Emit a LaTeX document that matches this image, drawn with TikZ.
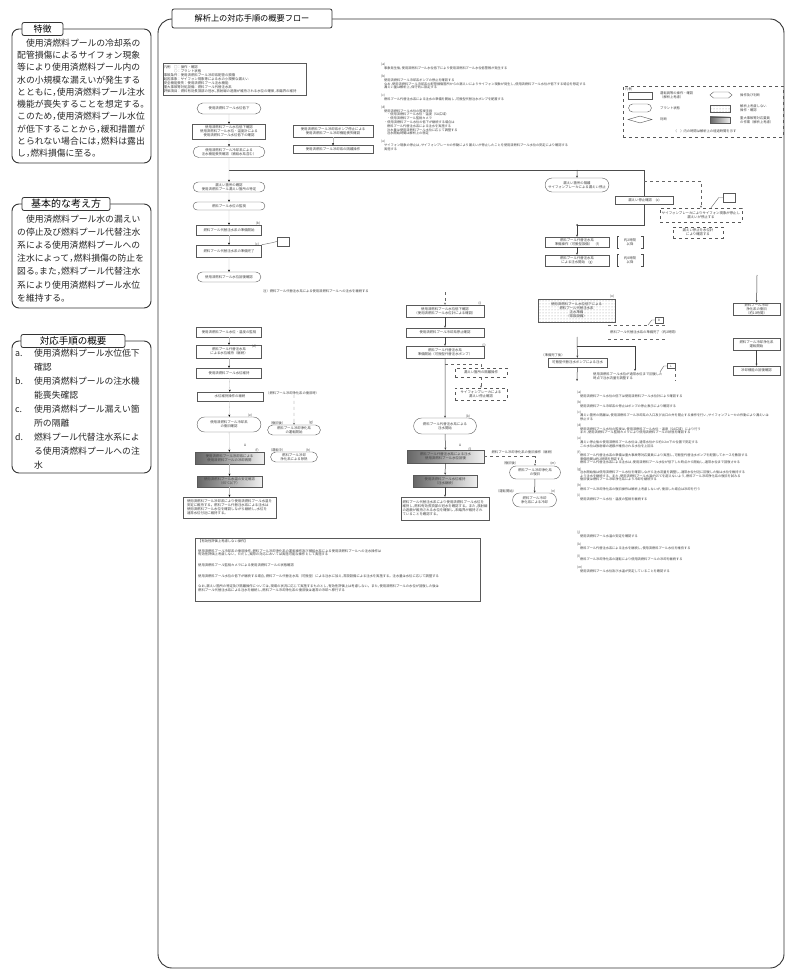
\documentclass[tikz,border=0pt]{standalone}
\usepackage{fontspec}
\setmainfont{Noto Sans CJK JP}
\usetikzlibrary{positioning,shapes.misc,shapes.geometric,arrows.meta,patterns}
\newcommand\tc{\makebox[0.5em][l]{，}}
\newcommand\tp{\makebox[0.5em][l]{。}}

\begin{document}
\begin{tikzpicture}[x=1pt,y=-1pt,
    panel/.style={draw=black!80, line width=0.9pt, rounded corners=7pt},
    tab/.style={draw=black!80, line width=0.8pt, fill=white, rounded corners=2pt, inner sep=0pt},
    body/.style={anchor=north west, align=left, inner sep=0pt, text=black!85},
    box/.style={draw=black!65, line width=0.4pt, inner sep=0.6pt, align=center, text=black!75, font=\fontsize{3.4}{4.1}\selectfont},
    term/.style={box, rounded rectangle},
    grad/.style={box, left color=black!60, right color=black!6},
    dotbox/.style={box, pattern=dots, pattern color=black!40},
    dbox/.style={box, dashed},
    txt/.style={inner sep=0pt, align=left, text=black!75, font=\fontsize{3.3}{4}\selectfont},
    link/.style={draw=black!75, line width=0.5pt, -{Stealth[length=2.2pt,width=2pt]}},
    faint/.style={draw=black!25, line width=0.3pt, -{Stealth[length=2.2pt,width=2pt,color=black]}},
    bus/.style={draw=black!70, line width=0.8pt},
    dlink/.style={draw=black!60, line width=0.4pt, dashed},
  ]
    \fill[white] (0,0) rectangle (786,973);
    \useasboundingbox (0,0) rectangle (786,973);

    % left panels
    \draw[panel] (12,29) rectangle (151,163);
    \node[tab, minimum width=41pt, minimum height=13pt, font=\fontsize{9}{10}\selectfont] (tokuchou) at (42.5,29) {特徴};
    \node[body, font=\fontsize{8.8}{12.3}\selectfont] (tokuchoubun) at (17,38.5) {　使用済燃料プールの冷却系の\\配管損傷によるサイフォン現象\\等により使用済燃料プール内の\\水の小規模な漏えいが発生する\\とともに\tc 使用済燃料プール注水\\機能が喪失することを想定する\tp\\このため\tc 使用済燃料プール水位\\が低下することから\tc 緩和措置が\\とられない場合には\tc 燃料は露出\\し\tc 燃料損傷に至る\tp};

    \draw[panel] (12,204) rectangle (151,308);
    \node[tab, minimum width=88pt, minimum height=13pt, font=\fontsize{10}{11}\selectfont] (kangaekata) at (66,204) {基本的な考え方};
    \node[body, font=\fontsize{8.8}{13.2}\selectfont] (kangaekatabun) at (17,214.5) {　使用済燃料プール水の漏えい\\の停止及び燃料プール代替注水\\系による使用済燃料プールへの\\注水によって\tc 燃料損傷の防止を\\図る\tp また\tc 燃料プール代替注水\\系により使用済燃料プール水位\\を維持する\tp};

    \draw[panel] (12,341) rectangle (151,473);
    \node[tab, minimum width=104pt, minimum height=13pt, font=\fontsize{9.5}{10}\selectfont] (gaiyou) at (73,341) {対応手順の概要};
    \node[body, font=\fontsize{8.8}{14}\selectfont] (gaiyoubun) at (15,348.5) {\makebox[19pt][l]{a.}使用済燃料プール水位低下\\\makebox[19pt][l]{}確認\\\makebox[19pt][l]{b.}使用済燃料プールの注水機\\\makebox[19pt][l]{}能喪失確認\\\makebox[19pt][l]{c.}使用済燃料プール漏えい箇\\\makebox[19pt][l]{}所の隔離\\\makebox[19pt][l]{d.}燃料プール代替注水系によ\\\makebox[19pt][l]{}る使用済燃料プールへの注\\\makebox[19pt][l]{}水};

    % main frame
    \draw[panel, rounded corners=14pt] (158,19) rectangle (784,968);
    \node[tab, minimum width=160pt, minimum height=19pt, font=\fontsize{8.2}{9}\selectfont] (flowtitle) at (252,18.5) {解析上の対応手順の概要フロー};

    % conditions box and notes
    \node[box, align=left, text width=142pt, minimum height=32pt, anchor=north west] (jouken) at (163,63) {凡例　□：操作・確認\\　　　○：プラント状態\\事故条件：使用済燃料プール冷却系配管の損傷\\起因事象：サイフォン現象等による水の小規模な漏えい\\安全機能喪失：使用済燃料プール注水機能\\重大事故等対処設備：燃料プール代替注水系\\評価項目：燃料有効長頂部の冠水\tc 放射線の遮蔽が維持される水位の確保\tc 未臨界の維持};
    \node[txt, anchor=north west, font=\fontsize{3.2}{3.8}\selectfont] (uenote) at (381,63) {(a)\\\hspace*{3pt}事象発生後\tc 使用済燃料プール水位低下により使用済燃料プール水位低警報が発生する\\[4pt]
      (b)\\\hspace*{3pt}使用済燃料プール冷却系ポンプの停止を確認する\\\hspace*{3pt}なお\tc 使用済燃料プール冷却系の配管損傷箇所からの漏えいによりサイフォン現象が発生し\tc 使用済燃料プール水位が低下する場合を想定する\\\hspace*{3pt}漏えい量は解析上\tc 保守的に設定する\\[4pt]
      (c)\\\hspace*{3pt}燃料プール代替注水系による注水の準備を開始し\tc 可搬型代替注水ポンプを配置する\\[4pt]
      (d)\\\hspace*{3pt}使用済燃料プール水位の監視手段\\\hspace*{3pt}\hspace*{3pt}・使用済燃料プール水位・温度（SA広域）\\\hspace*{3pt}\hspace*{3pt}・使用済燃料プール監視カメラ\\\hspace*{3pt}・使用済燃料プール水位の低下が継続する場合は\\\hspace*{3pt}\hspace*{3pt}燃料プール代替注水系による注水を実施する\\\hspace*{3pt}\hspace*{3pt}注水量は使用済燃料プール水位に応じて調整する\\\hspace*{3pt}\hspace*{3pt}注水開始時間は解析上の想定\\[4pt]
      (e)\\\hspace*{3pt}サイフォン現象の停止は\tc サイフォンブレーカの作動により漏えいが停止したことを使用済燃料プール水位の安定により確認する\\\hspace*{3pt}実施する};

    % legend
    \node[dbox, minimum width=160pt, minimum height=51pt, anchor=north west] (hanrei) at (623,86) {};
    \node[txt, anchor=north west] (hanreititle) at ([shift={(2,2)}]hanrei.north west) {凡例};
    \node[box, minimum width=24pt, minimum height=7pt] (lg1) at (640,95.5) {};
    \node[txt, anchor=west] (lg1t) at (660,95.5) {運転員等の操作・確認\\（解析上考慮）};
    \node[term, minimum width=24pt, minimum height=8pt] (lg2) at (640,108) {};
    \node[txt, anchor=west] (lg2t) at (660,108) {プラント状態};
    \node[box, diamond, aspect=3.4, minimum width=24pt, minimum height=7pt, inner sep=0pt] (lg3) at (640,119.5) {};
    \node[txt, anchor=west] (lg3t) at (660,119.5) {判断};
    \draw[black!65, line width=0.4pt] (710,95) -- (713.5,92) -- (728.5,92) -- (732,95) -- (728.5,98) -- (713.5,98) -- cycle;
    \node[txt, anchor=west] (lg4t) at (740,95) {操作及び判断};
    \node[dotbox, minimum width=20pt, minimum height=7pt] (lg5) at (720,108.5) {};
    \node[txt, anchor=west] (lg5t) at (740,108.5) {解析上考慮しない\\操作・確認};
    \node[grad, minimum width=20pt, minimum height=6pt] (lg6) at (720,120) {};
    \node[txt, anchor=west] (lg6t) at (740,120) {重大事故等対応要員\\の作業（解析上考慮）};
    \node[txt] (lg7t) at (705,131) {（　）内の時間は解析上の経過時間を示す};

    % first part
    \node[term, minimum width=65pt, minimum height=11pt] (n1) at (229,108.5) {使用済燃料プール水位低下};
    \node[box, minimum width=73pt, minimum height=15pt] (n2) at (229,131.5) {使用済燃料プール水位低下確認\\使用済燃料プール水位・温度計による\\使用済燃料プール水位低下の確認};
    \node[term, minimum width=73pt, minimum height=11pt] (n3) at (229,152) {使用済燃料プール冷却系による\\注水機能喪失確認（補給水系含む）};
    \node[box, minimum width=80pt, minimum height=12pt] (n4) at (333,131) {使用済燃料プール冷却系ポンプ停止による\\使用済燃料プール冷却機能喪失確認};
    \node[box, minimum width=80pt, minimum height=8pt] (n5) at (333,149.5) {使用済燃料プール冷却系の隔離操作};
    \draw[faint] (n1) -- (n2);
    \draw[faint] (n2) -- (n3);
    \draw[faint] (n4) -- (n5);

    \coordinate (j1) at (229,170);
    \coordinate (j2) at (644,170);
    \coordinate (j3) at (644,225);
    \coordinate (j4) at (577,225);
    \coordinate (j5) at (577,170);
    \node[term, minimum width=65pt, minimum height=14pt] (n7) at (577,185) {漏えい箇所の隔離\\サイフォンブレーカによる漏えい停止};
    \node[box, minimum width=58pt, minimum height=8pt] (n8) at (644,200) {漏えい停止確認　(e)};
    \node[box, minimum width=64pt, minimum height=10pt] (n9) at (577,242) {燃料プール代替注水系\\準備操作（可搬型設備）　(f)};
    \node[box, minimum width=64pt, minimum height=11pt] (n13) at (577,260.5) {燃料プール代替注水系\\による注水開始　(g)};
    \node[txt, align=center, minimum width=26pt, minimum height=12pt] (br1) at (630,242) {約2時間\\以降};
    \node[txt, align=center, minimum width=26pt, minimum height=12pt] (br2) at (630,260.5) {約8時間\\以降};
    \foreach \b in {br1,br2} {
      \draw[black!70, line width=0.4pt] ([xshift=2pt]\b.north west) -- (\b.north west) -- (\b.south west) -- ([xshift=2pt]\b.south west);
      \draw[black!70, line width=0.4pt] ([xshift=-2pt]\b.north east) -- (\b.north east) -- (\b.south east) -- ([xshift=-2pt]\b.south east);
    }
    \draw[faint, -] (n3) -- (j1);
    \draw[bus] (j1) -- (j2) -- (n8.north);
    \draw[bus] (n8.south) -- (j3) -- (j4);
    \fill[black!70] (j4) circle (1pt);
    \draw[link] (j4) -- (n9);
    \draw[link] (j5) -- (n7);
    \draw[link] (n9) -- (n13);

    \coordinate (d1) at (644,181);
    \coordinate (d2) at (701,181);
    \node[dbox, minimum width=82pt, minimum height=14pt] (n10) at (701,215) {サイフォンブレーカによりサイフォン現象が停止し\\漏えいが停止する};
    \node[box, minimum width=12pt, minimum height=9pt] (n11) at (729,197.5) {};
    \node[dbox, minimum width=50pt, minimum height=11pt] (n12) at (698,232.5) {漏えい停止を水位計\\により確認する};
    \draw[dlink, -{Stealth[length=2.2pt,width=2pt]}] (d1) -- (d2) -- (n10.north);
    \draw[black!60, line width=0.4pt] (n11.west) -- ++(-4,0) -- ([xshift=10pt]n10.north);

    % left column
    \node[term, minimum width=73pt, minimum height=10pt] (n6) at (229,187) {漏えい箇所の確認\\使用済燃料プール漏えい箇所の特定};
    \node[term, minimum width=73pt, minimum height=8pt] (n14) at (229,206) {燃料プール水位の監視};
    \node[box, minimum width=65pt, minimum height=10pt] (n15) at (229,230) {燃料プール代替注水系の準備開始};
    \node[box, minimum width=65pt, minimum height=12pt] (n16) at (229,251) {燃料プール代替注水系の準備完了};
    \node[box, minimum width=12pt, minimum height=9pt] (n17) at (283,241.5) {};
    \draw[black!60, line width=0.4pt] (n16.north east) -- ++(10,-2) -- (n17.west);
    \node[term, minimum width=65pt, minimum height=10pt] (n18) at (229,277) {使用済燃料プール水位回復確認};
    \node[txt, anchor=west] (tn1) at (263,291) {注）燃料プール代替注水系による使用済燃料プールへの注水を継続する};
    \node[box, minimum width=65pt, minimum height=10pt] (n19) at (229,332) {使用済燃料プール水位・温度の監視};
    \node[box, minimum width=65pt, minimum height=13pt] (n20) at (229,351.5) {燃料プール代替注水系\\による水位維持（継続）};
    \node[box, minimum width=65pt, minimum height=10pt] (n21) at (229,373) {使用済燃料プール水位維持};
    \node[box, minimum width=66pt, minimum height=9pt] (n22) at (230,396.5) {水位維持操作の継続};
    \node[txt, anchor=west] (tn2) at (266,393) {（燃料プール冷却浄化系の復旧時）};
    \node[term, minimum width=65pt, minimum height=15pt] (n24) at (229,424.5) {使用済燃料プール冷却系\\の復旧確認};
    \node[term, minimum width=54pt, minimum height=10pt] (n23) at (294,430) {燃料プール冷却浄化系\\の運転開始};
    \node[grad, minimum width=69pt, minimum height=12pt] (n25) at (229.5,458) {使用済燃料プール冷却系による\\使用済燃料プールの冷却再開};
    \node[term, minimum width=48pt, minimum height=10pt] (n26) at (294,457) {燃料プール冷却\\浄化系による除熱};
    \node[grad, minimum width=65pt, minimum height=11pt] (n27) at (229.5,481.5) {使用済燃料プール水温の安定確認\\（65℃以下）};
    \node[box, minimum width=93pt, minimum height=21pt, align=left] (n28) at (229.5,507.5) {使用済燃料プール冷却系により使用済燃料プール水温を\\安定に維持する。燃料プール代替注水系による注水は\\使用済燃料プール水位を確認しながら継続し\tc 水位を\\通常水位付近に維持する。};
    \draw[faint] (j1) -- (n6);
    \draw[faint] (n6) -- (n14);
    \draw[faint] (n14) -- (n15);
    \draw[faint] (n15) -- (n16);
    \draw[faint] (n16) -- (n18);
    \draw[faint] (n19) -- (n20);
    \draw[faint] (n20) -- (n21);
    \draw[faint] (n21) -- (n22);
    \draw[faint] (n22) -- (n24);
    \draw[faint] (n24) -- (n25);
    \draw[faint] (n25) -- (n27);
    \draw[faint] (n27) -- (n28);
    \draw[dlink, -{Stealth[length=2.2pt,width=2pt]}] (tn2.south -| n23) -- (n23);
    \node[txt] (l1) at (258,223) {(b)};
    \node[txt] (l2) at (257,244) {(c)};
    \node[txt] (l3) at (254,346) {(d)};
    \node[txt] (l4) at (250,415) {(e)};
    \node[txt] (l5) at (257,450) {(f)};
    \node[txt] (l6) at (277,423) {（復旧後）};
    \node[txt] (l7) at (311,423) {(g)};
    \node[txt] (l8) at (277,450) {（運転中）};
    \node[txt] (l9) at (308,450) {(h)};
    \node[txt] (a1) at (245,445) {A};
    \node[txt] (a2) at (460,445) {A};

    % middle column
    \coordinate (m0) at (445,292);
    \node[box, minimum width=78pt, minimum height=12pt] (m1) at (445,311) {使用済燃料プール水位低下確認\\（使用済燃料プール水位計による確認）};
    \node[box, minimum width=78pt, minimum height=9pt] (m2) at (445,332.5) {使用済燃料プール冷却系停止確認};
    \node[box, minimum width=78pt, minimum height=12pt] (m3) at (445,352) {燃料プール代替注水系\\準備開始（可搬型代替注水ポンプ）};
    \node[term, minimum width=64pt, minimum height=16pt] (m4) at (445,426) {燃料プール代替注水系による\\注水開始};
    \coordinate (k1) at (445,364);
    \node[dbox, minimum width=52pt, minimum height=9pt] (m5) at (481,372.5) {漏えい箇所の隔離操作};
    \node[dbox, minimum width=52pt, minimum height=12pt] (m6) at (481,394) {サイフォンブレーカによる\\漏えい停止確認};
    \node[grad, minimum width=77pt, minimum height=13pt] (m7) at (445.5,456.5) {燃料プール代替注水系による注水\\使用済燃料プール水位回復};
    \node[txt, anchor=south] (tn3) at (523,454) {燃料プール冷却浄化系の復旧操作（継続）};
    \node[term, minimum width=52pt, minimum height=13pt] (m8) at (535,472.5) {燃料プール冷却浄化系\\の復旧};
    \node[term, minimum width=45pt, minimum height=14pt] (m9) at (534.5,500) {燃料プール冷却\\浄化系による冷却};
    \node[grad, minimum width=64pt, minimum height=12pt] (m10) at (445,481) {使用済燃料プール水位維持\\（注水継続）};
    \node[box, minimum width=88pt, minimum height=23pt, align=left] (m11) at (445,508.5) {燃料プール代替注水系により使用済燃料プール水位を\\維持し\tc 燃料有効長頂部の冠水を確認する。また\tc 放射線\\の遮蔽が維持される水位を確保し\tc 未臨界が維持され\\ていることを確認する。};
    \draw[dlink, -{Stealth[length=2.2pt,width=2pt]}] (m0) -- (m1);
    \draw[link] (m1) -- (m2);
    \draw[link] (m2) -- (m3);
    \draw[link] (m3) -- (m4);
    \draw[dlink] (k1) -| (m5.north);
    \draw[dlink, -{Stealth[length=2.2pt,width=2pt]}] (m5) -- (m6);
    \draw[link] (m4) -- (m7);
    \draw[link] (m7) -- (m10);
    \draw[link] (m10) -- (m11);
    \draw[dlink, -{Stealth[length=2.2pt,width=2pt]}] (m7.east) -| (m8.north);
    \draw[link] (m8) -- (m9);
    \node[txt] (l10) at (480,303) {(i)};
    \node[txt] (l11) at (484,346) {(j)};
    \node[txt] (l12) at (468,416) {(k)};
    \node[txt] (l13) at (470,449) {(l)};
    \node[txt] (l14) at (510,463) {（復旧後）};
    \node[txt] (l15) at (553,463) {(m)};
    \node[txt] (l16) at (506,491) {（運転開始）};
    \node[txt] (l17) at (553,491) {(n)};

    % right middle column
    \node[dotbox, minimum width=77pt, minimum height=23pt] (r1) at (576.5,310.5) {使用済燃料プール水位低下による\\燃料プール代替注水系\\注水準備\\（常設設備）};
    \node[txt] (l18) at (612,296) {(o)};
    \draw[dlink] (608,325) -- (665,325);
    \draw[dlink] (608,339) -- (665,339);
    \node[txt, anchor=west] (tn5) at (610,332.5) {燃料プール代替注水系の準備完了（約2時間）};
    \node[box, minimum width=8pt, minimum height=6pt, font=\fontsize{3}{3.5}\selectfont] (r4) at (659,320) {B};
    \draw[black!60, line width=0.4pt] (r4.west) -- ++(-3,0) -- (648,325);
    \coordinate (r0) at (577,337);
    \coordinate (r5) at (577,381);
    \coordinate (r6) at (577,346);
    \coordinate (r7) at (635,371);
    \node[box, minimum width=59pt, minimum height=9pt] (r2) at (577.5,362.5) {可搬型代替注水ポンプによる注水};
    \node[txt] (l19) at (553,355) {（準備完了後）};
    \draw[link] (r0) -- (r2);
    \draw[link] (r2) -- (r5);
    \draw[link] (r6) -| (r7);
    \node[txt, anchor=north west] (tn4) at (593,373) {使用済燃料プール水位が通常水位まで回復した\\時点で注水流量を調整する};
    \node[box, minimum width=8pt, minimum height=5pt, font=\fontsize{3}{3.5}\selectfont] (r3) at (671,366) {L};
    \draw[black!60, line width=0.4pt] (r3.west) -- ++(-3,0) -- (660,372);
    \draw[dlink] (675,368) -- (675,381);

    % far right column
    \coordinate (f0) at (757,275);
    \node[box, minimum width=47pt, minimum height=12pt] (f1) at (756.5,309) {燃料プール冷却\\浄化系の復旧\\（約10時間）};
    \node[box, minimum width=47pt, minimum height=12pt] (f2) at (756.5,344) {燃料プール冷却浄化系\\運転開始};
    \node[box, minimum width=47pt, minimum height=9pt] (f3) at (756.5,370.5) {冷却機能の回復確認};
    \draw[link] (f0) -- (f1);
    \draw[link] (f2) -- (f3);

    % right notes
    \node[txt, anchor=north west, font=\fontsize{3.2}{3.6}\selectfont] (migichu) at (577,391) {(a)\\\hspace*{3pt}使用済燃料プール水位の低下は使用済燃料プール水位計により確認する\\[2.5pt]
      (b)\\\hspace*{3pt}使用済燃料プール冷却系の停止はポンプの停止表示により確認する\\[2.5pt]
      (c)\\\hspace*{3pt}漏えい箇所の隔離は\tc 使用済燃料プール冷却系の入口及び出口の弁を閉止する操作を行い\tc サイフォンブレーカの作動により漏えいは\\\hspace*{3pt}停止する\\[2.5pt]
      (d)\\\hspace*{3pt}使用済燃料プール水位の監視は\tc 使用済燃料プール水位・温度（SA広域）により行う\\\hspace*{3pt}また\tc 使用済燃料プール監視カメラにより使用済燃料プールの状態を確認する\\[2.5pt]
      (e)\\\hspace*{3pt}漏えい停止後の使用済燃料プール水位は\tc 通常水位から約0.2m下の位置で安定する\\\hspace*{3pt}この水位は放射線の遮蔽が維持される水位を上回る\\[2.5pt]
      (f)\\\hspace*{3pt}燃料プール代替注水系の準備は重大事故等対応要員により実施し\tc 可搬型代替注水ポンプを配置してホースを敷設する\\\hspace*{3pt}準備時間は約2時間を想定する\\\hspace*{3pt}燃料プール代替注水系による注水は\tc 使用済燃料プール水位が低下した時点から開始し\tc 通常水位まで回復させる\\[2.5pt]
      (g)\\\hspace*{3pt}注水開始後は使用済燃料プール水位を確認しながら注水流量を調整し\tc 通常水位付近に回復した後は水位を維持する\\\hspace*{3pt}よう注水を継続する。また\tc 使用済燃料プール水温が65℃を超えないよう\tc 燃料プール冷却浄化系の復旧を試みる\\\hspace*{3pt}復旧後は燃料プール冷却浄化系により冷却を継続する\\[2.5pt]
      (h)\\\hspace*{3pt}燃料プール冷却浄化系の復旧操作は解析上考慮しないが\tc 復旧した場合は冷却を行う\\[2.5pt]
      (i)\\\hspace*{3pt}使用済燃料プール水位・温度の監視を継続する};
    \node[txt, anchor=north west, font=\fontsize{3.2}{3.6}\selectfont] (migichu2) at (577,531) {(j)\\\hspace*{3pt}使用済燃料プール水温の安定を確認する\\[4.5pt]
      (k)\\\hspace*{3pt}燃料プール代替注水系による注水を継続し\tc 使用済燃料プール水位を維持する\\[4.5pt]
      (l)\\\hspace*{3pt}燃料プール冷却浄化系の運転により使用済燃料プールの冷却を継続する\\[4.5pt]
      (m)\\\hspace*{3pt}使用済燃料プール水位及び水温が安定していることを確認する};

    % bottom left notes
    \node[box, minimum width=285pt, minimum height=63pt, anchor=north west] (b1) at (195,538) {};
    \node[txt, anchor=north west, font=\fontsize{3.3}{3.7}\selectfont] (b1t) at ([shift={(3,2)}]b1.north west) {【有効性評価上考慮しない操作】\\[5.5pt]
      使用済燃料プール冷却系の復旧操作\tc 燃料プール冷却浄化系の運転操作及び補給水系による使用済燃料プールへの注水操作は\\有効性評価上考慮しない。ただし\tc 実際の対応においては実施可能な操作として実施する\\[7pt]
      使用済燃料プール監視カメラによる使用済燃料プールの状態確認\\[7.5pt]
      使用済燃料プール水位の低下が継続する場合\tc 燃料プール代替注水系（可搬型）による注水に加え\tc 常設設備による注水を実施する。注水量は水位に応じて調整する\\[6.5pt]
      なお\tc 漏えい箇所の特定及び隔離操作については\tc 現場の状況に応じて実施するものとし\tc 有効性評価上は考慮しない。また\tc 使用済燃料プールの水位が回復した後は\\燃料プール代替注水系による注水を継続し\tc 燃料プール冷却浄化系の復旧後は通常の冷却へ移行する};
\end{tikzpicture}
\end{document}
